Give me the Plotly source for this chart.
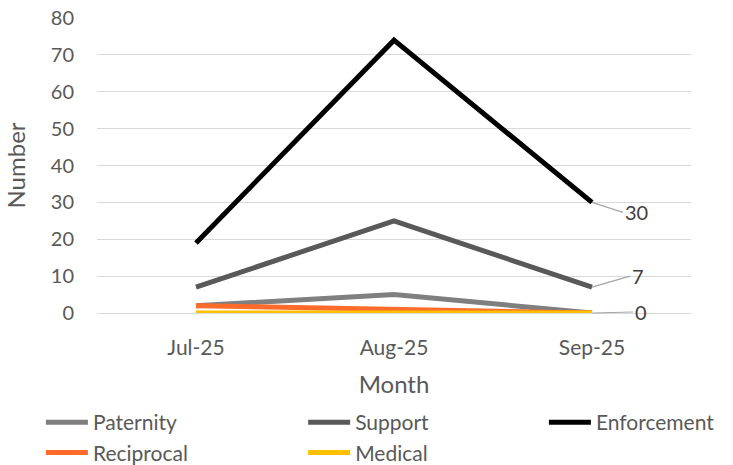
import plotly.graph_objects as go

months = ["Jul-25", "Aug-25", "Sep-25"]
paternity = [2, 5, 0]
support = [7, 25, 7]
enforcement = [19, 74, 30]
reciprocal = [2, 1, 0]
medical = [0, 0, 0]

EM = "\u2003"
# (name, values, colour, legend column group, legend padding in em spaces)
series = [
    ("Paternity", paternity, "#7f7f7f", "a", 0),
    ("Support", support, "#595959", "b", 7),
    ("Enforcement", enforcement, "#000000", "c", 0),
    ("Reciprocal", reciprocal, "#ff6b2a", "a", 7),
    ("Medical", medical, "#ffc000", "b", 0),
]

FONT = "Lato, Carlito, Calibri, sans-serif"
fig = go.Figure()
for name, vals, col, grp, pad in series:
    fig.add_trace(go.Scatter(x=months, y=vals, name=name + EM * pad, mode="lines",
                             legendgroup=grp, hovertemplate=name + ": %{y}<extra></extra>",
                             line=dict(color=col, width=5), cliponaxis=False))

# end-of-line data labels with leader lines
labels = [(enforcement[-1], 31, 10), (support[-1], 38, -11), (medical[-1], 41, -1)]
for val, ax, ay in labels:
    fig.add_annotation(x=months[-1], y=val, text=str(val), showarrow=True,
                       arrowhead=0, arrowwidth=1.2, arrowcolor="#a6a6a6",
                       ax=ax, ay=ay, xanchor="left", yanchor="middle",
                       font=dict(family=FONT, size=20, color="#404040"))

fig.update_layout(
    width=733, height=465,
    margin=dict(l=97, r=42, t=18, b=152, autoexpand=False),
    paper_bgcolor="white", plot_bgcolor="white",
    font=dict(family=FONT, size=20, color="#595959"),
    showlegend=True,
    legend=dict(orientation="h", traceorder="grouped",
                x=-0.0944, xanchor="left", y=-0.3017, yanchor="top",
                itemwidth=42, bgcolor="rgba(0,0,0,0)",
                font=dict(family=FONT, size=21, color="#595959")),
    xaxis=dict(title=dict(text="Month", standoff=18, font=dict(size=24, color="#595959")),
               range=[-0.5, 2.5],
               showgrid=False, showline=False, ticks="", ticklabelstandoff=20,
               tickfont=dict(size=21, color="#595959")),
    yaxis=dict(title=dict(text="Number", standoff=18, font=dict(size=24, color="#595959")),
               range=[0, 80], dtick=10, showgrid=True, gridcolor="#d9d9d9", gridwidth=1,
               zeroline=True, zerolinecolor="#d9d9d9", zerolinewidth=1,
               showline=False, ticks="", ticklabelstandoff=22,
               tickfont=dict(size=20, color="#595959")),
)

fig.write_html("out.html", config={"displayModeBar": False},
               post_script="document.body.style.margin='0';")
